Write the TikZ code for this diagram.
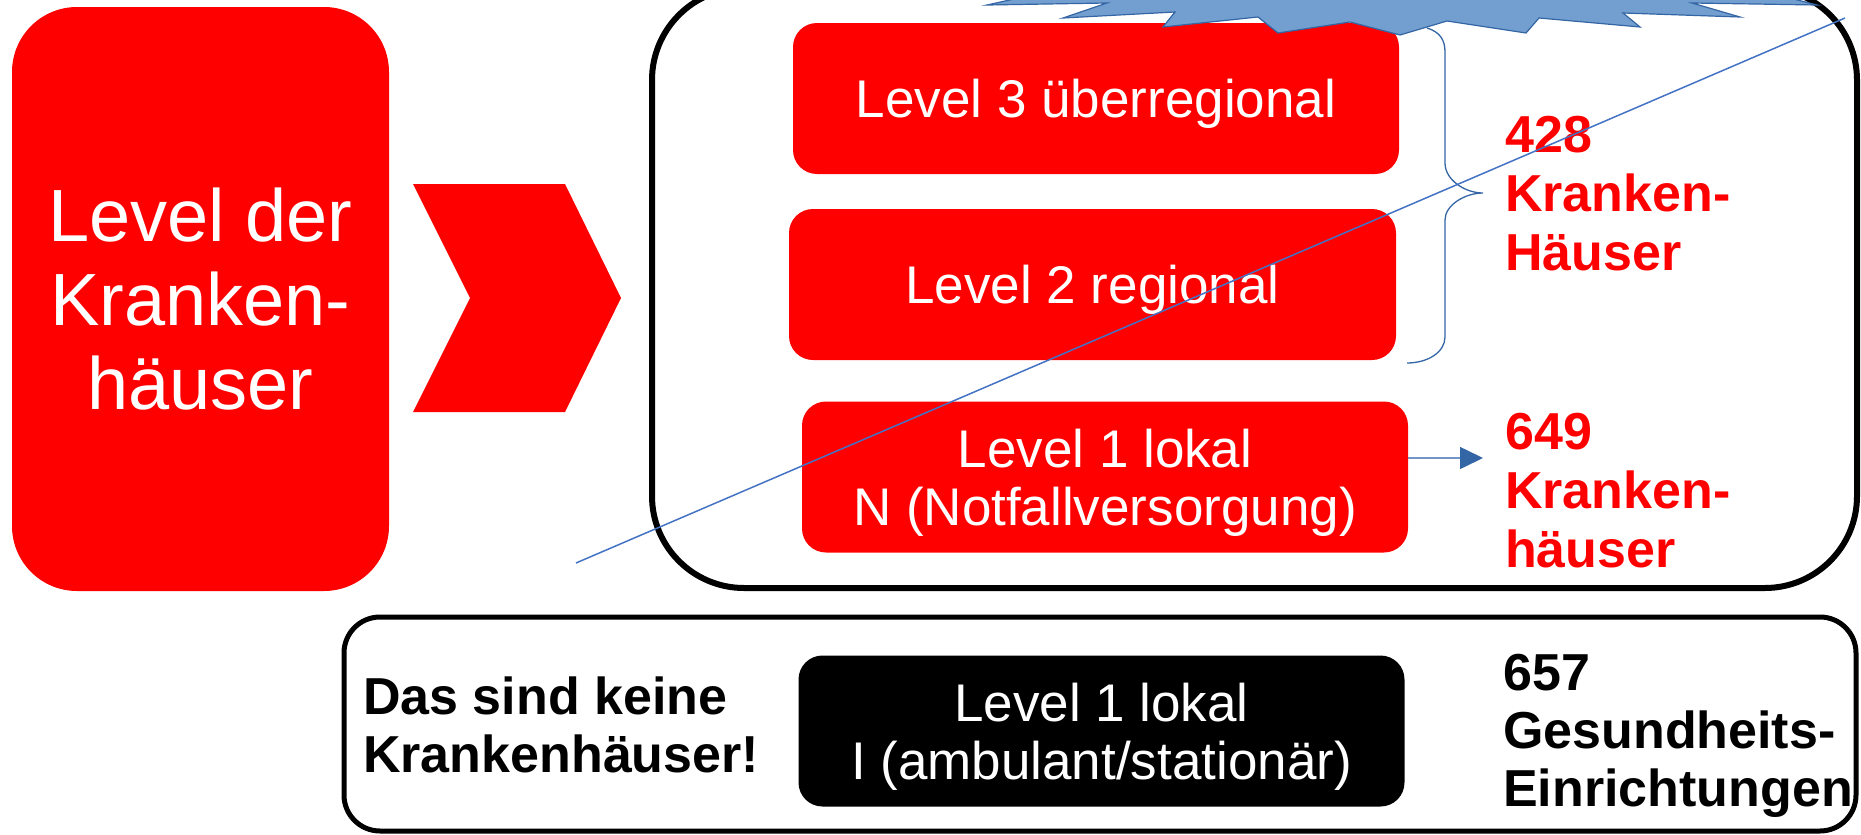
\documentclass[tikz,border=0pt]{standalone}
\usepackage{fontspec}
\setmainfont{Liberation Sans}
\usetikzlibrary{arrows.meta}
\definecolor{redbg}{RGB}{255,0,0}
\definecolor{starfill}{RGB}{114,159,207}
\definecolor{stardraw}{RGB}{52,101,164}
\definecolor{lineblue}{RGB}{68,114,196}
\definecolor{arrline}{RGB}{114,150,200}
\begin{document}
\begin{tikzpicture}[x=1pt,y=-1pt,
  levelbox/.style={fill=redbg, rounded corners=24pt, text=white, align=center,
    minimum width=606pt, minimum height=151pt, inner sep=0pt, text depth=0pt,
    font=\fontsize{53}{58}\selectfont},
  blackbox/.style={levelbox, fill=black},
  bigbox/.style={fill=redbg, rounded corners=65pt, text=white, align=center,
    minimum width=377pt, minimum height=584pt, inner sep=0pt,
    font=\fontsize{74}{84}\selectfont},
  redcount/.style={anchor=north west, inner sep=0pt, align=left, text=redbg,
    font=\fontsize{52}{59}\selectfont\bfseries},
  blackcount/.style={anchor=north west, inner sep=0pt, align=left, text=black,
    font=\fontsize{52}{58}\selectfont\bfseries},
  frame/.style={draw=black, line width=6pt, rounded corners=92pt},
  frameb/.style={draw=black, line width=5pt, rounded corners=36pt},
  thinblue/.style={draw=lineblue, line width=1.5pt},
]
\useasboundingbox (0,0) rectangle (1861,835);

% outer frames
\draw[frame] (652,-12) rectangle (1857,588);
\draw[frameb] (344,617) rectangle (1856,831);

% left big box
\node[bigbox] (lvl) at (200.5,299) {Level der\\Kranken-\\häuser};

% chevron
\fill[redbg] (413,184) -- (565,184) -- (621,298) -- (565,412) -- (413,412) -- (470,298) -- cycle;

% level boxes
\node[levelbox] (l3) at (1096,98.5) {Level 3 überregional};
\node[levelbox, minimum width=607pt] (l2) at (1092.5,284.5) {Level 2 regional};
\node[levelbox] (l1) at (1105,477) {Level 1 lokal\\N (Notfallversorgung)};
\node[blackbox] (l1i) at (1101.5,731) {Level 1 lokal\\I (ambulant/stationär)};

% star (seal) at top
\filldraw[fill=starfill, draw=stardraw, line width=1.2pt]
  (987,5) -- (1107,3) -- (1063,18) -- (1175,12) -- (1163,27) -- (1258,17)
  -- (1278,33) -- (1350,22) -- (1400,35) -- (1447,21) -- (1526,33)
  -- (1539,18) -- (1640,27) -- (1623,13) -- (1740,17) -- (1692,3)
  -- (1817,5) -- (1720,-20) -- (1100,-20) -- cycle;

% brace
\draw[thinblue, line width=1.3pt, draw=stardraw]
  (1427,28) .. controls (1440,32) and (1445,40) .. (1445,52)
  -- (1445,163) .. controls (1445,180) and (1465,193) .. (1483,193)
  .. controls (1465,193) and (1445,205) .. (1445,220)
  -- (1445,337) .. controls (1445,352) and (1428,363) .. (1407,363);

% count texts
\node[redcount] (c428) at (1505,116) {428\\Kranken-\\Häuser};
\node[redcount] (c649) at (1505,413) {649\\Kranken-\\häuser};
\node[blackcount] (keine) at (363,677) {Das sind keine\\Krankenhäuser!};
\node[blackcount] (c657) at (1503,654) {657\\Gesundheits-\\Einrichtungen};

% arrow from level 1 to 649
\coordinate (arrtip) at (1483,458);
\draw[draw=arrline, line width=1.5pt, -{Triangle[length=23pt, width=22pt, color=stardraw]}]
  (l1.east |- arrtip) -- (arrtip);

% diagonal blue line
\coordinate (dstart) at (576,563);
\coordinate (dend) at (1845,18);
\draw[thinblue] (dstart) -- (dend);
\end{tikzpicture}
\end{document}
